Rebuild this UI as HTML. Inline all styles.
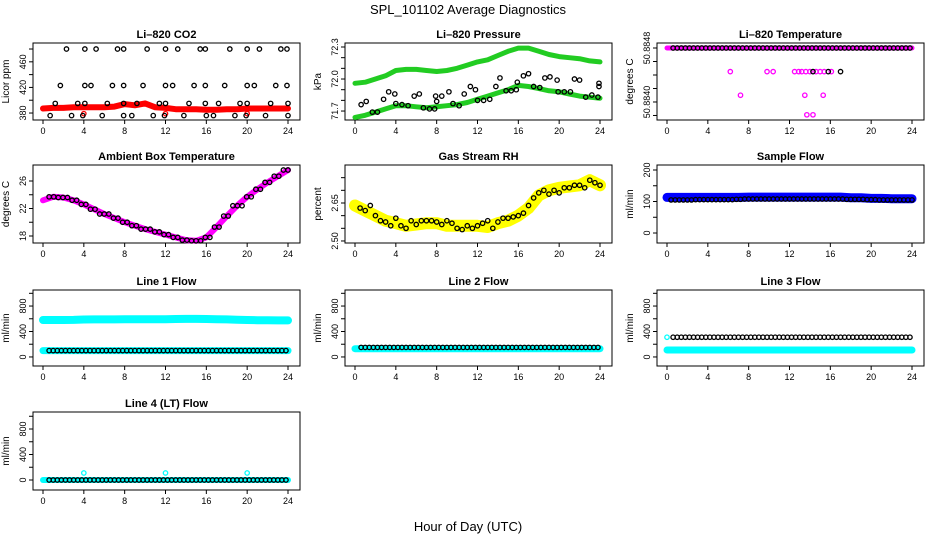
<!DOCTYPE html>
<html><head><meta charset="utf-8">
<style>
html,body{margin:0;padding:0;background:#fff;}
svg{display:block;font-family:"Liberation Sans",Arial,sans-serif;}
</style></head>
<body>
<svg id="chart" width="936" height="540" viewBox="0 0 936 540" xmlns="http://www.w3.org/2000/svg">
<text x="468" y="14" text-anchor="middle" font-size="13">SPL_101102  Average Diagnostics</text>
<text x="468" y="531" text-anchor="middle" font-size="13">Hour of Day (UTC)</text>
</svg>
<script>
// ---- data ----
const hours = [0,1,2,3,4,5,6,7,8,9,10,11,12,13,14,15,16,17,18,19,20,21,22,23,24];
const xTicks = [0,4,8,12,16,20,24];
const co2Red = [387,388,388,389,389,389,389,390,394,392,395,389,388,386,386,386,385,385,386,386,387,387,387,387,387];
const co2Black = [[2.3,480],[4.1,480],[5.2,480],[7.3,480],[7.9,480],[10.2,480],[12.0,480],[13.2,480],[15.4,480],[15.9,480],[18.3,480],[20.0,480],[21.2,480],[23.3,480],[23.9,480],
 [1.7,423],[4.1,423],[4.7,423],[6.8,423],[7.9,423],[9.8,423],[12.0,423],[12.7,423],[14.8,423],[15.9,423],[17.8,423],[20.0,423],[20.7,423],[22.8,423],[23.9,423],
 [1.2,395],[3.4,395],[4.1,395],[6.3,395],[7.9,395],[9.2,395],[11.4,395],[12.0,395],[14.3,395],[15.9,395],[17.2,395],[19.3,395],[20.0,395],[22.3,395],[24.0,395],
 [0.7,376],[2.8,376],[3.9,376],[5.8,376],[7.9,376],[8.7,376],[10.8,376],[11.9,376],[13.8,376],[16.0,376],[16.7,376],[18.8,376],[19.9,376],[21.8,376],[24.0,376]];
const co2RedOut = [[4,379],[12,379],[20,379]];
const presUpper = [71.96,71.97,72.0,72.03,72.08,72.09,72.09,72.08,72.07,72.08,72.1,72.13,72.16,72.18,72.22,72.26,72.29,72.29,72.26,72.23,72.21,72.2,72.19,72.17,72.16];
const presLower = [71.64,71.66,71.69,71.72,71.75,71.75,71.74,71.73,71.74,71.75,71.76,71.78,71.81,71.84,71.87,71.9,71.94,71.93,71.91,71.89,71.88,71.86,71.84,71.83,71.82];
const presBlack = [[0.6,71.76],[1.1,71.79],[1.7,71.69],[2.2,71.69],[2.8,71.81],[3.3,71.88],[3.9,71.86],[4.0,71.77],[4.6,71.76],[5.2,71.75],[5.8,71.84],[6.3,71.86],[6.7,71.73],[7.3,71.72],[7.8,71.72],[7.9,71.84],[8.0,71.79],[8.5,71.84],[9.2,71.88],[9.6,71.77],[10.2,71.75],[10.7,71.86],[11.3,71.93],[11.8,71.9],[12.0,71.8],[12.6,71.8],[13.2,71.81],[13.8,71.93],[14.2,72.01],[14.8,71.89],[15.3,71.89],[15.8,71.9],[15.9,71.97],[16.5,72.03],[17.0,72.05],[17.5,71.93],[18.1,71.92],[18.6,72.01],[19.1,72.02],[19.8,71.99],[19.9,71.88],[20.5,71.88],[21.1,71.88],[21.5,72.0],[22.0,71.99],[22.6,71.83],[23.2,71.85],[23.8,71.83],[23.9,71.96],[23.9,71.93]];
const tempMain = [50.8848,50.8848,50.8848,50.8848,50.8848,50.8848,50.8848,50.8848,50.8848,50.8848,50.8848,50.8848,50.8848,50.8848,50.8848,50.8848,50.8848,50.8848,50.8848,50.8848,50.8848,50.8848,50.8848,50.8848,50.8848];
const tempMagOut = [[6.2,50.88445],[7.2,50.8841],[9.8,50.88445],[10.4,50.88445],[12.5,50.88445],[12.9,50.88445],[13.2,50.88445],[13.6,50.88445],[14.0,50.88445],[14.6,50.88445],[15.0,50.88445],[15.4,50.88445],[16.1,50.88445],[13.5,50.8841],[15.3,50.8841],[13.7,50.88381],[14.3,50.88381]];
const tempBlackOut = [[14.3,50.88445],[15.8,50.88445],[17.0,50.88445]];
const ambient = [23.2,23.7,23.6,23.2,22.6,21.9,21.2,20.6,20.0,19.5,19.0,18.6,18.2,17.8,17.4,17.3,17.8,19.3,20.9,22.4,23.7,24.8,25.8,26.7,27.6];
const rhBand = [2.64,2.62,2.6,2.58,2.57,2.56,2.565,2.57,2.57,2.56,2.56,2.56,2.56,2.555,2.57,2.58,2.6,2.63,2.68,2.7,2.71,2.715,2.72,2.74,2.72];
const rhBlack = [[0.5,2.63],[1.0,2.62],[1.5,2.64],[2.0,2.6],[2.5,2.58],[3.0,2.575],[3.5,2.56],[4.0,2.59],[4.5,2.56],[5.0,2.55],[5.5,2.58],[6.0,2.565],[6.5,2.58],[7.0,2.58],[7.5,2.58],[8.0,2.575],[8.5,2.565],[9.0,2.58],[9.5,2.57],[10.0,2.55],[10.5,2.545],[11.0,2.56],[11.5,2.55],[12.0,2.56],[12.5,2.57],[13.0,2.58],[13.5,2.55],[14.0,2.575],[14.5,2.59],[15.0,2.59],[15.5,2.595],[16.0,2.6],[16.5,2.61],[17.0,2.64],[17.5,2.67],[18.0,2.69],[18.5,2.7],[19.0,2.685],[19.5,2.7],[20.0,2.69],[20.5,2.71],[21.0,2.71],[21.5,2.72],[22.0,2.72],[22.5,2.71],[23.0,2.74],[23.5,2.73],[24.0,2.72]];
const sampleBlue = [113,113,113,113,113,113,113,113,114,114,114,114,114,114,114,114,114,114,112,112,110,110,109,109,109];
const sampleBlack = [105,105,105,106,106,106,106,107,108,108,108,108,108,108,108,108,108,108,107,107,106,105,105,105,105];
const l1Cyan = [580,580,580,582,588,590,590,590,592,592,592,594,594,596,598,598,596,594,590,585,580,578,576,575,575];
const l1Black = [100,100,100,100,100,100,100,100,100,100,100,100,100,100,100,100,100,100,100,100,100,100,100,100,100];
const l2Cyan = [130,130,130,130,130,130,130,130,130,130,130,130,130,130,130,130,130,130,130,130,130,130,130,130,130];
const l2Black = [150,150,150,150,150,150,150,150,150,150,150,150,150,150,150,150,150,150,150,150,150,150,150,150,150];
const l3Cyan = [110,110,110,110,110,110,110,110,110,110,110,110,110,110,110,110,110,110,110,110,110,110,110,110,110];
const l3Black = [310,310,310,310,310,310,310,310,310,310,310,310,310,310,310,310,310,310,310,310,310,310,310,310,310];
const l4Cyan = [0,0,0,0,0,0,0,0,0,0,0,0,0,0,0,0,0,0,0,0,0,0,0,0,0];
const l4Black = [0,0,0,0,0,0,0,0,0,0,0,0,0,0,0,0,0,0,0,0,0,0,0,0,0];
const l4CyanOut = [[4,110],[12,110],[20,110]];

// ---- drawing ----
const NS = "http://www.w3.org/2000/svg";
const svg = document.getElementById('chart');
function mk(tag, attrs, parent){const e=document.createElementNS(NS,tag);for(const k in attrs)e.setAttribute(k,attrs[k]);(parent||svg).appendChild(e);return e;}
const colL=[33,345,657], rowT=[43,165,290,412], rowB=[120,243,366,490];
function panel(name,c,r,title,ylab,top,bot,ticks,labels,fmt){
  const g=mk('g',{});
  
  
  const L=colL[c],R=L+267,T=rowT[r],B=rowB[r];
  const p={g,L,R,T,B,
    x:h=>L+10+h*245/24,
    y:v=>T+(top-v)/(top-bot)*(B-T)};
  const box=mk('rect',{x:L,y:T,width:R-L,height:B-T,fill:'none',stroke:'#000','stroke-width':1},g);
  
  
  const t=mk('text',{x:(L+R)/2,y:T-5,'text-anchor':'middle','font-size':11,'font-weight':'bold'},g);
  t.textContent=title;
  
  
  const yl=mk('text',{transform:`translate(${L-24},${(T+B)/2}) rotate(-90)`,'text-anchor':'middle','font-size':10},g);
  yl.textContent=ylab;
  
  
  xTicks.forEach(h=>{
    mk('line',{x1:p.x(h),x2:p.x(h),y1:B,y2:B+4,stroke:'#000'},g);
    const tx=mk('text',{x:p.x(h),y:B+14,'text-anchor':'middle','font-size':9},g);
    tx.textContent=h;
    
    
  });
  ticks.forEach(v=>{
    mk('line',{x1:L,x2:L-4,y1:p.y(v),y2:p.y(v),stroke:'#000'},g);
  });
  labels.forEach(v=>{
    const ty=mk('text',{transform:`translate(${L-7},${p.y(v)}) rotate(-90)`,'text-anchor':'middle','font-size':9},g);
    ty.textContent=fmt?fmt(v):v;
    
    
  });
  return p;
}
function band(p,arr,color,w,name){
  const pts=arr.map((v,i)=>p.x(hours[i]).toFixed(1)+','+p.y(v).toFixed(1)).join(' ');
  const pl=mk('polyline',{points:pts,fill:'none',stroke:color,'stroke-width':w,'stroke-linejoin':'round','stroke-linecap':'round'},p.g);
  
  
}
function pts(p,list,color,name){
  list.forEach(([h,v])=>{
    const c=mk('circle',{cx:p.x(h),cy:p.y(v),r:2.2,fill:'none',stroke:color,'stroke-width':1.3},p.g);
    
    
  });
}
function dense(p,arr,color,step,start,name){
  const list=[];
  for(let h=start;h<=24.001;h+=step){list.push([h,arr[Math.min(24,Math.round(h))]]);}
  pts(p,list,color,name);
}
const flowTicks=[0,200,400,600,800,1000], flowLabels=[0,400,800];

// CO2
let p=panel('co2',0,0,'Li–820 CO2','Licor ppm',489.4,369.1,[380,400,420,440,460,480],[380,420,460]);
band(p,co2Red,'#ff0000',6,'co2-red-band');
pts(p,co2RedOut,'#ff0000','co2-red-outlier');
pts(p,co2Black,'#000','co2-black-point');
// Pressure
p=panel('pressure',1,0,'Li–820 Pressure','kPa',72.3375,71.616,[71.7,71.8,71.9,72.0,72.1,72.2,72.3],[71.7,72.0,72.3],v=>v.toFixed(1));
band(p,presUpper,'#22cc22',5,'pressure-upper-band');
band(p,presLower,'#22cc22',5,'pressure-lower-band');
pts(p,presBlack,'#000','pressure-black-point');
// Temperature
p=panel('li820-temp',2,0,'Li–820 Temperature','degrees C',50.884874,50.883733,[50.8838,50.884,50.8842,50.8844,50.8846,50.8848],[50.884,50.8848],v=>v.toFixed(4));
band(p,tempMain,'#ff00ff',5,'li820-temp-magenta-band');
dense(p,tempMain,'#000',0.4,0.6,'li820-temp-black-point');
pts(p,tempMagOut,'#ff00ff','li820-temp-magenta-outlier');
pts(p,tempBlackOut,'#000','li820-temp-black-outlier');
// Ambient
p=panel('ambient',0,1,'Ambient Box Temperature','degrees C',28.33,16.98,[18,20,22,24,26],[18,22,26]);
band(p,ambient,'#ff00ff',6,'ambient-magenta-band');
dense(p,ambient,'#000',0.45,0.6,'ambient-black-point');
// RH
p=panel('rh',1,1,'Gas Stream RH','percent',2.80,2.492,[2.5,2.55,2.6,2.65,2.7,2.75],[2.5,2.65],v=>v.toFixed(2));
band(p,rhBand,'#ffff00',12,'rh-yellow-band');
pts(p,rhBlack,'#000','rh-black-point');
// Sample flow
p=panel('sample-flow',2,1,'Sample Flow','ml/min',215.9,-31.7,[0,50,100,150,200],[0,100,200]);
band(p,sampleBlue,'#0000ff',9,'sample-flow-blue-band');
dense(p,sampleBlack,'#000',0.4,0.4,'sample-flow-black-point');
// Line 1
p=panel('line1',0,2,'Line 1 Flow','ml/min',1052,-142,flowTicks,flowLabels);
band(p,l1Cyan,'#00ffff',8,'line1-cyan-band');
band(p,l1Black,'#00ffff',7,'line1-cyan-low-band');
dense(p,l1Black,'#000',0.4,0.6,'line1-black-point');
// Line 2
p=panel('line2',1,2,'Line 2 Flow','ml/min',1052,-142,flowTicks,flowLabels);
band(p,l2Cyan,'#00ffff',7,'line2-cyan-band');
dense(p,l2Black,'#000',0.4,0.6,'line2-black-point');
// Line 3
p=panel('line3',2,2,'Line 3 Flow','ml/min',1052,-142,flowTicks,flowLabels);
band(p,l3Cyan,'#00ffff',7,'line3-cyan-band');
pts(p,[[0,l3Black[0]]],'#00ffff','line3-cyan-start');
dense(p,l3Black,'#000',0.4,0.6,'line3-black-point');
// Line 4
p=panel('line4',0,3,'Line 4 (LT) Flow','ml/min',1067,-157,flowTicks,flowLabels);
band(p,l4Cyan,'#00ffff',6,'line4-cyan-band');
dense(p,l4Black,'#000',0.4,0.6,'line4-black-point');
pts(p,l4CyanOut,'#00ffff','line4-cyan-outlier');
</script>
</body></html>
